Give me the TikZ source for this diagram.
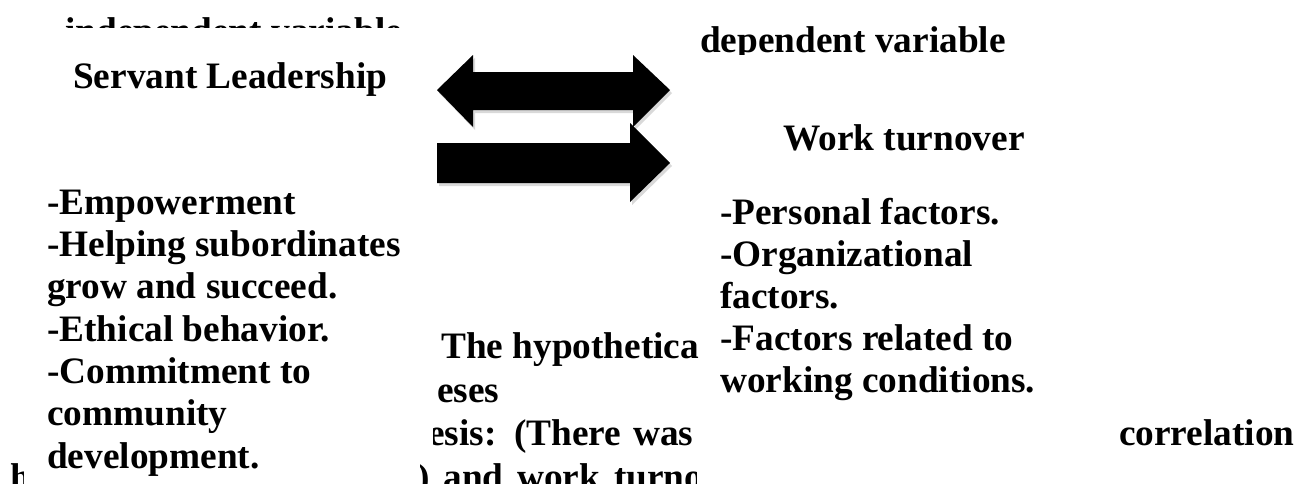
\documentclass[tikz,border=0pt]{standalone}
\usepackage{fontspec}
\setmainfont{Liberation Serif}
\usepackage{tikz}
\usetikzlibrary{shadows}

\begin{document}
\begin{tikzpicture}[x=1pt, y=-1pt]
  % Styles
  \tikzstyle{txt} = [inner sep=0pt, anchor=base west, font=\fontsize{37.3}{42.3}\selectfont\bfseries]
  \tikzstyle{lst} = [txt, align=left]
  \tikzstyle{bigarrow} = [fill=black, drop shadow={shadow xshift=2pt, shadow yshift=-3pt, opacity=0.3}]

  \useasboundingbox (0,0) rectangle (1298,483);

  % Text behind the boxes, cut off
  \begin{scope}
    \clip (0,0) rectangle (440,27);
    \node [txt] (indep) at (65,43) {independent variable};
  \end{scope}
  \begin{scope}
    \clip (680,0) rectangle (1100,54);
    \node [txt] (dep) at (700,52) {dependent variable};
  \end{scope}
  \node [txt] (hypo) at (441,358) {The hypothetica};
  \node [txt] (eses) at (437,402) {eses};
  \begin{scope}
    \clip (433,400) rectangle (696,460);
    \node [txt] (thesis) at (428,445) {\makebox[265pt][s]{esis: (There was}};
  \end{scope}
  \node [txt] (corr) at (1119,445) {correlation};
  \begin{scope}
    \clip (420,440) rectangle (696,483);
    \node [txt] (between) at (417,489) {\makebox[286pt][s]{) and work turno}};
  \end{scope}
  \begin{scope}
    \clip (0,440) rectangle (23,483);
    \node [txt] (hpart) at (10,489) {h};
  \end{scope}

  % Nodes (lists sit on the baseline of their last line)
  \node [txt] (servant) at (73,88) {Servant Leadership};
  \node [lst] (servlist) at (47,468) {-Empowerment\\-Helping subordinates\\grow and succeed.\\-Ethical behavior.\\-Commitment to\\community\\development.};
  \node [txt] (work) at (783,150) {Work turnover};
  \node [lst, font=\fontsize{37.3}{41.8}\selectfont\bfseries] (worklist) at (720,392) {-Personal factors.\\-Organizational\\factors.\\-Factors related to\\working conditions.};

  % Arrows
  \fill [bigarrow] (437,90) -- (473,55) -- (473,72) -- (633,72) -- (633,55) -- (670,90)
    -- (633,127) -- (633,110) -- (473,110) -- (473,127) -- cycle;
  \fill [bigarrow] (437,143) -- (630,143) -- (630,123) -- (670,163) -- (630,202)
    -- (630,183) -- (437,183) -- cycle;

\end{tikzpicture}
\end{document}
